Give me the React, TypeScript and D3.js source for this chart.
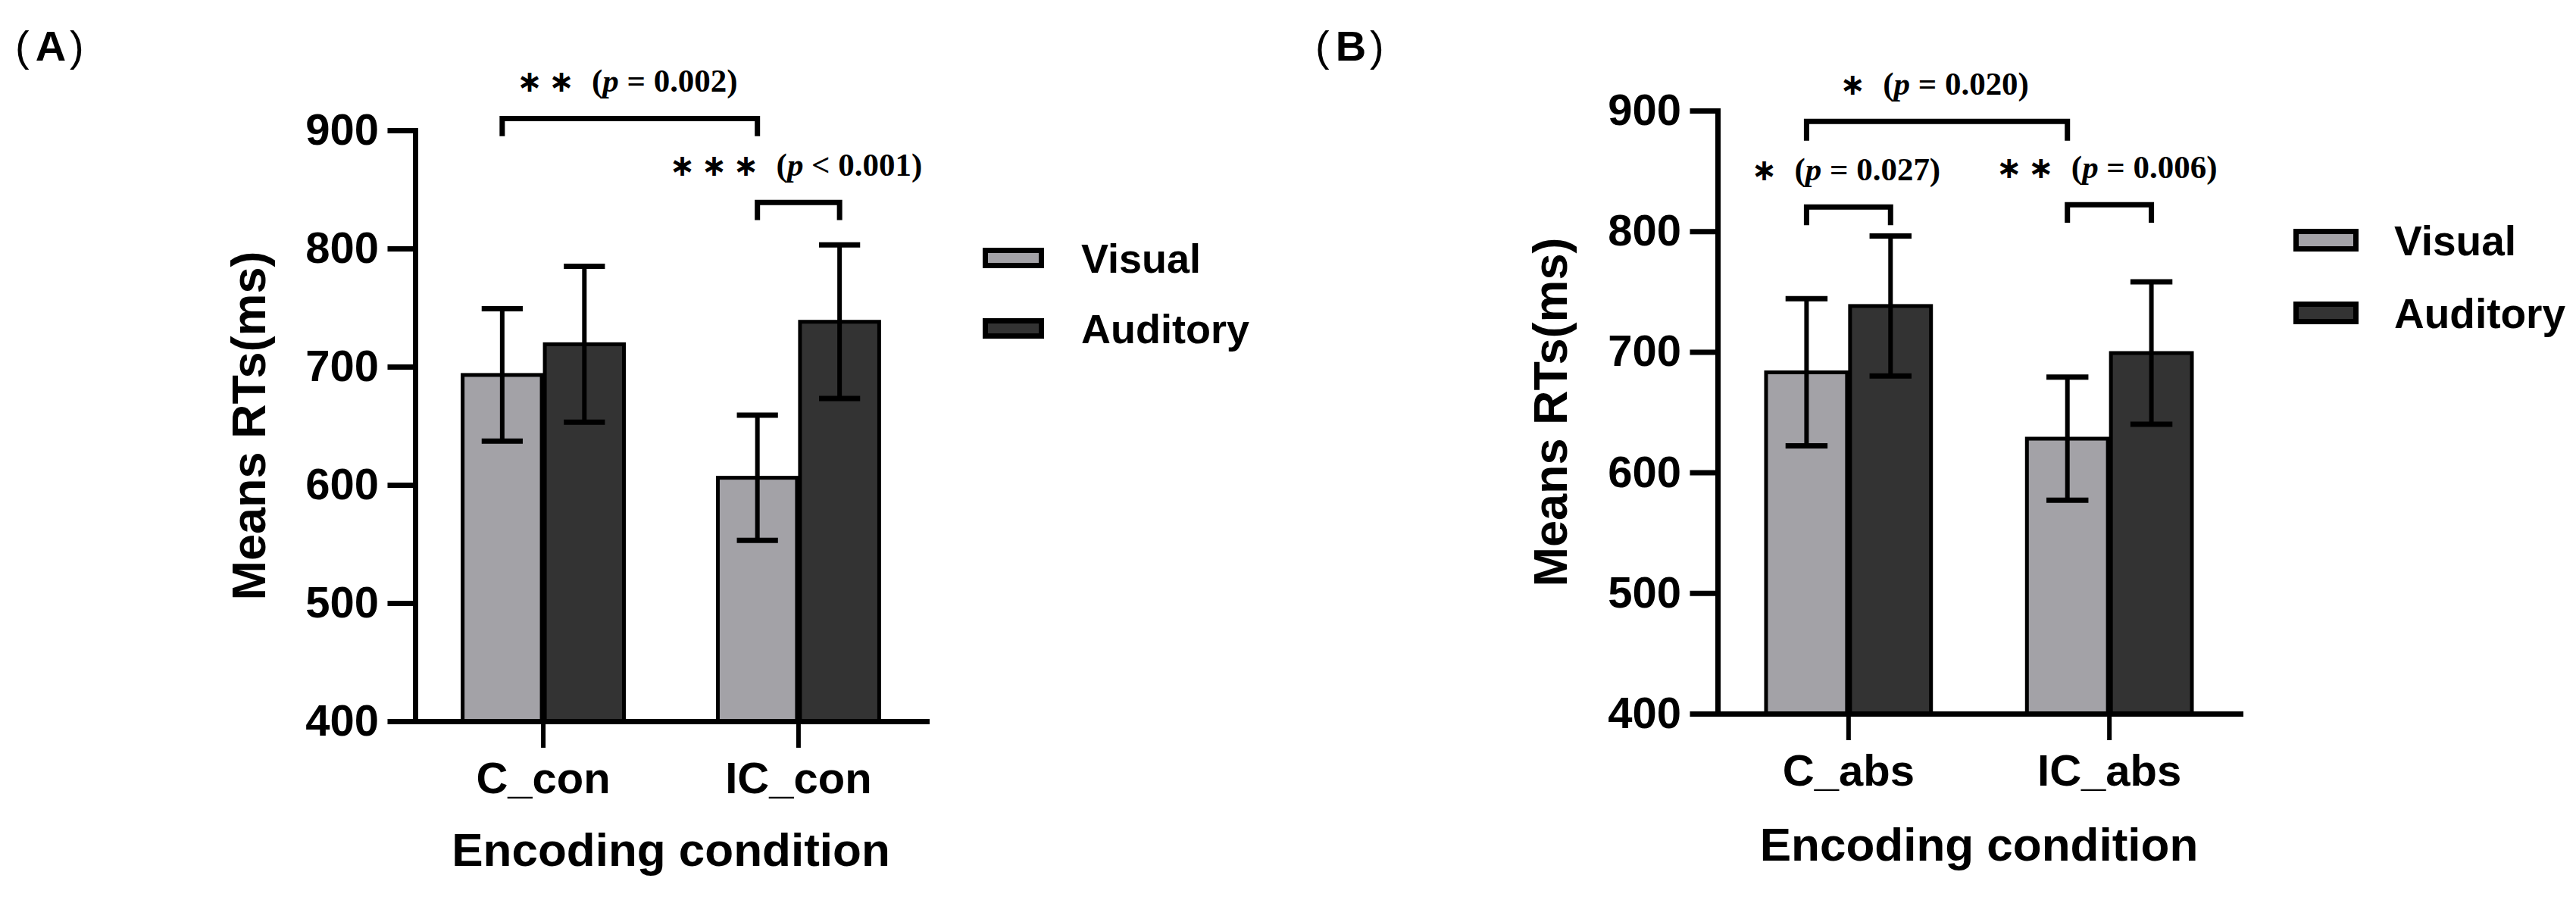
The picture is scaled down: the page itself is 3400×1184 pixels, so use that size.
import { useEffect, useRef } from 'react'
import * as d3 from 'd3'

const seriesNames = ['Visual', 'Auditory']
const seriesFills = ['#a3a2a7', '#333333']
const yTicks = [400, 500, 600, 700, 800, 900]

// panel A: concrete words
const categoriesA = ['C_con', 'IC_con']
const visualMeansA = [693, 606]
const visualErrA = [56, 53]
const auditoryMeansA = [719, 738]
const auditoryErrA = [66, 65]

// panel B: abstract words
const categoriesB = ['C_abs', 'IC_abs']
const visualMeansB = [683, 628]
const visualErrB = [61, 51]
const auditoryMeansB = [738, 699]
const auditoryErrB = [58, 59]

// significance brackets: a/b = [category index, series index], y = bracket top (ms), leg = leg end (ms)
const sigA = [
  { a: [0, 0], b: [1, 0], y: 910, leg: 895, stars: 2, op: '=', p: '0.002' },
  { a: [1, 0], b: [1, 1], y: 839, leg: 824, stars: 3, op: '<', p: '0.001' },
]
const sigB = [
  { a: [0, 0], b: [1, 0], y: 891, leg: 875, stars: 1, op: '=', p: '0.020' },
  { a: [0, 0], b: [0, 1], y: 820, leg: 805, stars: 1, op: '=', p: '0.027' },
  { a: [1, 0], b: [1, 1], y: 822, leg: 807, stars: 2, op: '=', p: '0.006' },
]

const SANS = '"Liberation Sans", Arial, sans-serif'
const SERIF = '"Liberation Serif", "Times New Roman", serif'

const panels = [
  {
    label: 'A', labelX: 20,
    cats: categoriesA, means: [visualMeansA, auditoryMeansA], errs: [visualErrA, auditoryErrA], sig: sigA,
    left: 548, right: 1223, top: 172, bottom: 952,
    yTitleX: 350, xTitleY: 1143,
    legendX: 1297, legendY: 327, legendW: 81, legendH: 27, legendGap: 93, legendTextX: 1427, legendFont: 54,
  },
  {
    label: 'B', labelX: 1736,
    cats: categoriesB, means: [visualMeansB, auditoryMeansB], errs: [visualErrB, auditoryErrB], sig: sigB,
    left: 2267, right: 2957, top: 146, bottom: 942,
    yTitleX: 2068, xTitleY: 1136,
    legendX: 3027, legendY: 302, legendW: 86, legendH: 30, legendGap: 96, legendTextX: 3160, legendFont: 55,
  },
]

function drawPanel(svg: d3.Selection<SVGSVGElement, unknown, null, undefined>, p: any) {
  const g = svg.append('g')

  const y = d3.scaleLinear().domain([400, 900]).range([p.bottom, p.top])
  const x0 = d3.scaleBand<string>().domain(p.cats).range([p.left, p.right])
    .paddingInner(0.356).paddingOuter(0.18)
  const x1 = d3.scaleBand<string>().domain(seriesNames).range([0, x0.bandwidth()])
  const bw = x1.bandwidth()
  const cx = (c: number, s: number) => (x0(p.cats[c]) as number) + (x1(seriesNames[s]) as number) + bw / 2

  const bars = p.cats.flatMap((cat: string, ci: number) =>
    seriesNames.map((s, si) => ({ cat, ci, s, si, mean: p.means[si][ci], err: p.errs[si][ci] })))

  // bars
  g.selectAll('rect.bar')
    .data(bars)
    .enter().append('rect')
    .attr('class', 'bar')
    .attr('x', (d: any) => (x0(d.cat) as number) + (x1(d.s) as number) + 2)
    .attr('width', bw - 4)
    .attr('y', (d: any) => y(d.mean))
    .attr('height', (d: any) => y(400) - y(d.mean))
    .style('fill', (d: any) => seriesFills[d.si])
    .style('stroke', '#000')
    .style('stroke-width', '5px')

  // error bars
  const eb = g.selectAll('g.err')
    .data(bars)
    .enter().append('g')
    .attr('class', 'err')
    .style('stroke', '#000')
    .style('stroke-width', '6px')

  eb.append('line')
    .attr('x1', (d: any) => cx(d.ci, d.si))
    .attr('x2', (d: any) => cx(d.ci, d.si))
    .attr('y1', (d: any) => y(d.mean - d.err))
    .attr('y2', (d: any) => y(d.mean + d.err))

  eb.selectAll('line.cap')
    .data((d: any) => [d.mean - d.err, d.mean + d.err].map(v => ({ v, x: cx(d.ci, d.si) })))
    .enter().append('line')
    .attr('class', 'cap')
    .attr('x1', (d: any) => d.x - bw * 0.25)
    .attr('x2', (d: any) => d.x + bw * 0.25)
    .attr('y1', (d: any) => y(d.v))
    .attr('y2', (d: any) => y(d.v))
    .style('stroke-width', '7px')

  // y axis
  const yAxis = g.append('g')
    .attr('transform', `translate(${p.left},0)`)
    .call(d3.axisLeft(y).tickValues(yTicks).tickSize(33).tickSizeOuter(0).tickPadding(15).tickFormat(d3.format('d')))
  yAxis.attr('font-size', 58).attr('font-family', SANS).attr('font-weight', 'bold')
  yAxis.selectAll('line, path').attr('stroke', '#000').attr('stroke-width', 7).attr('stroke-linecap', 'square')
  yAxis.selectAll('text').attr('fill', '#000')

  // x axis
  const xAxis = g.append('g')
    .attr('transform', `translate(0,${p.bottom})`)
    .call(d3.axisBottom(x0).tickSize(35).tickSizeOuter(0).tickPadding(19))
  xAxis.attr('font-size', 58).attr('font-family', SANS).attr('font-weight', 'bold')
  xAxis.selectAll('path').attr('stroke', '#000').attr('stroke-width', 7).attr('stroke-linecap', 'square')
  xAxis.selectAll('line').attr('stroke', '#000').attr('stroke-width', 6)
  xAxis.selectAll('text').attr('fill', '#000')

  // axis titles
  g.append('text')
    .attr('transform', `translate(${p.yTitleX},${(p.top + p.bottom) / 2}) rotate(-90)`)
    .style('text-anchor', 'middle')
    .style('font-family', SANS)
    .style('font-weight', 'bold')
    .style('font-size', '63px')
    .text('Means RTs(ms)')

  g.append('text')
    .attr('x', (p.left + p.right) / 2)
    .attr('y', p.xTitleY)
    .style('text-anchor', 'middle')
    .style('font-family', SANS)
    .style('font-weight', 'bold')
    .style('font-size', '62px')
    .text('Encoding condition')

  // panel label
  const lab = g.append('text')
    .attr('x', p.labelX)
    .attr('y', 80)
    .style('font-family', SANS)
    .style('font-size', '56px')
  lab.append('tspan').text('(')
  lab.append('tspan').attr('dx', 8).style('font-weight', 'bold').text(p.label)
  lab.append('tspan').attr('dx', 5).text(')')

  // legend
  seriesNames.forEach((name, i) => {
    const ly = p.legendY + i * p.legendGap
    g.append('rect')
      .attr('x', p.legendX + 3.5)
      .attr('y', ly + 3.5)
      .attr('width', p.legendW - 7)
      .attr('height', p.legendH - 7)
      .style('fill', seriesFills[i])
      .style('stroke', '#000')
      .style('stroke-width', '7px')
    g.append('text')
      .attr('x', p.legendTextX)
      .attr('y', ly + p.legendH / 2 + p.legendFont * 0.36)
      .style('font-family', SANS)
      .style('font-weight', 'bold')
      .style('font-size', `${p.legendFont}px`)
      .text(name)
  })

  // significance brackets
  p.sig.forEach((s: any) => {
    const xa = cx(s.a[0], s.a[1])
    const xb = cx(s.b[0], s.b[1])
    const yTop = y(s.y)
    g.append('path')
      .attr('d', `M${xa},${y(s.leg)} V${yTop} H${xb} V${y(s.leg)}`)
      .style('fill', 'none')
      .style('stroke', '#000')
      .style('stroke-width', '7px')

    const base = yTop - 35
    const ann = g.append('g')
    const pt = ann.append('text')
      .attr('y', base)
      .style('font-family', SERIF)
      .style('font-size', '43px')
    pt.append('tspan').text('(')
    pt.append('tspan').style('font-style', 'italic').text('p')
    pt.append('tspan').text(` ${s.op} ${s.p})`)
    const w = (pt.node() as SVGTextElement).getComputedTextLength()
    // bolder but kept at the regular width, like the narrow bold serif of the original
    pt.style('font-weight', 'bold')
      .attr('textLength', w)
      .attr('lengthAdjust', 'spacingAndGlyphs')

    const starStep = 42
    const starW = (s.stars - 1) * starStep + 20
    const gap = 30
    const start = (xa + xb) / 2 - (starW + gap + w) / 2
    pt.attr('x', start + starW + gap)
    d3.range(s.stars).forEach(k => {
      ann.append('text')
        .attr('x', start + 10 + k * starStep)
        .attr('y', base)
        .style('text-anchor', 'middle')
        .style('font-family', '"DejaVu Sans", sans-serif')
        .style('font-weight', 'bold')
        .style('font-size', '40px')
        .text('\u2217')
    })
  })
}

export default function App() {
  const svgRef = useRef<SVGSVGElement>(null)

  useEffect(() => {
    if (!svgRef.current) return
    const svg = d3.select(svgRef.current)
    svg.selectAll('*').remove()
    svg.append('rect').attr('width', 3400).attr('height', 1184).style('fill', '#fff')
    panels.forEach(p => drawPanel(svg, p))
  }, [])

  return (
    <div style={{ position: 'absolute', left: 0, top: 0 }}>
      <svg ref={svgRef} width={3400} height={1184} style={{ display: 'block' }}></svg>
    </div>
  )
}
